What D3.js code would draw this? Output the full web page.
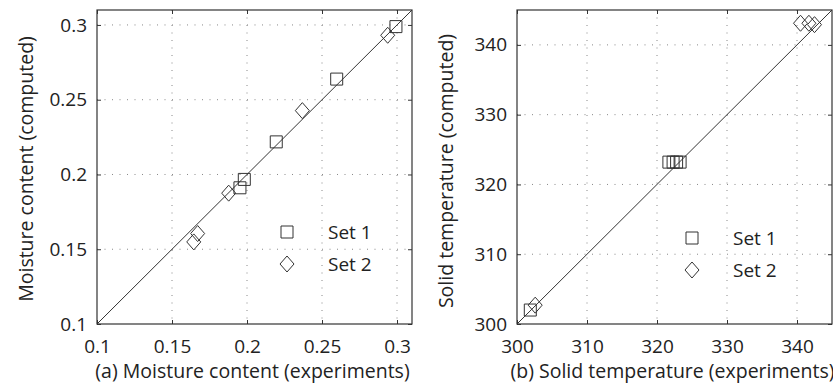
<!DOCTYPE html>
<html>
<head>
<meta charset="utf-8">
<script src="https://cdn.jsdelivr.net/npm/d3@7"></script>
<style>
  body { margin: 0; background: #fff; }
  svg text { font-family: "Open Sans", "Noto Sans", sans-serif; fill: #222; }
</style>
</head>
<body>
<svg id="chart" width="833" height="386"></svg>
<script>
// panel (a): moisture content
const moistureTicks = [0.1, 0.15, 0.2, 0.25, 0.3];
const moistureSet1 = [[0.2993, 0.2989], [0.2598, 0.2638], [0.2195, 0.2218], [0.1982, 0.1967], [0.1953, 0.1911]];
const moistureSet2 = [[0.2938, 0.2931], [0.2369, 0.2427], [0.1878, 0.1875], [0.1645, 0.1549], [0.1671, 0.1605]];

// panel (b): solid temperature
const tempTicks = [300, 310, 320, 330, 340];
const tempSet1 = [[321.7, 323.2], [322.3, 323.2], [322.8, 323.2], [323.3, 323.2], [301.9, 302.0]];
const tempSet2 = [[340.5, 343.1], [341.7, 343.1], [342.5, 342.9], [302.6, 302.7]];

const legendLabels = ['Set 1', 'Set 2'];

const svg = d3.select('#chart');
const ink = '#333';

const panels = [
    { left: 97, domain: [0.1, 0.31], ticks: moistureTicks, fmt: d => String(d),
      s1: moistureSet1, s2: moistureSet2,
      xlabel: '(a) Moisture content (experiments)', ylabel: 'Moisture content (computed)',
      ylabelX: 26, ylabelY: 169, legend: [287, 232] },
    { left: 517, domain: [300, 345], ticks: tempTicks, fmt: d => String(d),
      s1: tempSet1, s2: tempSet2,
      xlabel: '(b) Solid temperature (experiments)', ylabel: 'Solid temperature (computed)',
      ylabelX: 446, ylabelY: 171, legend: [692, 238] }
];

const plotTop = 10, plotBottom = 324, size = 315;

const squarePath = 'M-6,-6H6V6H-6Z';
const diamondPath = 'M0,-8L7,0L0,8L-7,0Z';

panels.forEach(p => {
    const x = d3.scaleLinear().domain(p.domain).range([p.left, p.left + size]);
    const y = d3.scaleLinear().domain(p.domain).range([plotBottom, plotTop]);
    const g = svg.append('g');

    // dotted grid
    g.selectAll('.gx').data(p.ticks.slice(1)).enter().append('line')
        .attr('x1', d => x(d)).attr('x2', d => x(d)).attr('y1', plotTop).attr('y2', plotBottom)
        .attr('stroke', '#888').attr('stroke-width', 1).attr('stroke-dasharray', '1,6.5');
    g.selectAll('.gy').data(p.ticks.slice(1)).enter().append('line')
        .attr('y1', d => y(d)).attr('y2', d => y(d)).attr('x1', p.left).attr('x2', p.left + size)
        .attr('stroke', '#888').attr('stroke-width', 1).attr('stroke-dasharray', '1,6.5');

    // axes (inward ticks)
    const xAxis = d3.axisBottom(x).tickValues(p.ticks).tickFormat(p.fmt).tickSizeInner(-4).tickSizeOuter(0).tickPadding(10);
    const yAxis = d3.axisLeft(y).tickValues(p.ticks).tickFormat(p.fmt).tickSizeInner(-4).tickSizeOuter(0).tickPadding(10);
    const xg = g.append('g').attr('transform', `translate(0,${plotBottom})`).call(xAxis);
    const yg = g.append('g').attr('transform', `translate(${p.left},0)`).call(yAxis);
    [xg, yg].forEach(a => {
        a.select('.domain').remove();
        a.selectAll('line').attr('stroke', ink);
        a.selectAll('text').attr('font-size', 19).attr('font-family', '"Open Sans", sans-serif').attr('fill', '#222');
    });
    xg.selectAll('text').attr('dy', '1em');
    // top/right ticks
    g.append('g').attr('transform', `translate(0,${plotTop})`)
        .call(d3.axisTop(x).tickValues(p.ticks).tickFormat('').tickSizeInner(-4).tickSizeOuter(0))
        .call(a => { a.select('.domain').remove(); a.selectAll('line').attr('stroke', ink); });
    g.append('g').attr('transform', `translate(${p.left + size},0)`)
        .call(d3.axisRight(y).tickValues(p.ticks).tickFormat('').tickSizeInner(-4).tickSizeOuter(0))
        .call(a => { a.select('.domain').remove(); a.selectAll('line').attr('stroke', ink); });

    // frame
    g.append('rect').attr('x', p.left).attr('y', plotTop).attr('width', size).attr('height', plotBottom - plotTop)
        .attr('fill', 'none').attr('stroke', ink).attr('stroke-width', 1.2);

    // 1:1 line
    g.append('line')
        .attr('x1', x(p.domain[0])).attr('y1', y(p.domain[0]))
        .attr('x2', x(p.domain[1])).attr('y2', y(p.domain[1]))
        .attr('stroke', ink).attr('stroke-width', 1);

    // markers
    g.selectAll('.s1').data(p.s1).enter().append('path')
        .attr('d', squarePath).attr('transform', d => `translate(${x(d[0])},${y(d[1])})`)
        .attr('fill', 'none').attr('stroke', ink).attr('stroke-width', 1);
    g.selectAll('.s2').data(p.s2).enter().append('path')
        .attr('d', diamondPath).attr('transform', d => `translate(${x(d[0])},${y(d[1])})`)
        .attr('fill', 'none').attr('stroke', ink).attr('stroke-width', 1);

    // legend
    const [lx, ly] = p.legend;
    [squarePath, diamondPath].forEach((m, i) => {
        g.append('path').attr('d', m).attr('transform', `translate(${lx},${ly + i * 32})`)
            .attr('fill', '#fff').attr('stroke', ink).attr('stroke-width', 1);
        g.append('text').attr('x', lx + 41).attr('y', ly + i * 32 + 7)
            .attr('font-size', 19).text(legendLabels[i]);
    });

    // axis labels
    svg.append('text').attr('x', p.left + size / 2 - 2).attr('y', 378)
        .attr('text-anchor', 'middle').attr('font-size', 19.5).text(p.xlabel);
    svg.append('text').attr('transform', `translate(${p.ylabelX},${p.ylabelY}) rotate(-90)`)
        .attr('text-anchor', 'middle').attr('dy', '0.35em').attr('font-size', 19.5).text(p.ylabel);
});
</script>
</body>
</html>
